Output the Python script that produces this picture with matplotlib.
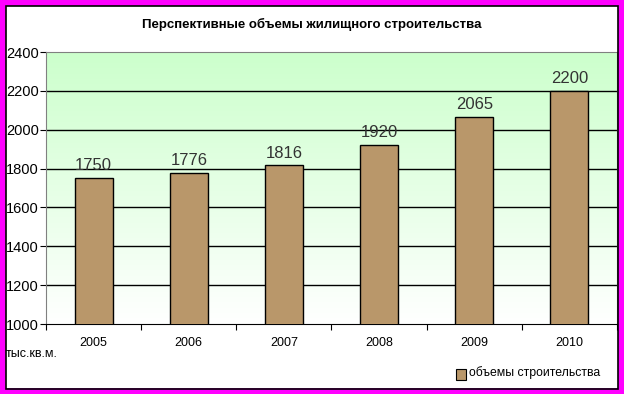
import numpy as np
import matplotlib
matplotlib.use('Agg')
import matplotlib.pyplot as plt
from matplotlib.patches import Rectangle

years = ["2005", "2006", "2007", "2008", "2009", "2010"]
volumes = [1750, 1776, 1816, 1920, 2065, 2200]
y_ticks = [1000, 1200, 1400, 1600, 1800, 2000, 2200, 2400]

plt.rcParams['font.family'] = ['Liberation Sans', 'DejaVu Sans']

fig = plt.figure(figsize=(6.24, 3.94), dpi=100)
fig.patch.set_facecolor("white")

# magenta outer frame and thin black inner line
fig.patches.append(Rectangle((0, 0), 1, 1, transform=fig.transFigure,
                             fill=False, edgecolor="#ff00ff", linewidth=8.5))
fig.patches.append(Rectangle((5.5 / 624, 5.5 / 394), 612.5 / 624, 383 / 394,
                             transform=fig.transFigure, fill=False,
                             edgecolor="black", linewidth=1.2))

ax = fig.add_axes([46 / 624, 70 / 394, 571 / 624, 272 / 394])

# green to white gradient background
grad = np.linspace(0, 1, 256).reshape(-1, 1)
top = np.array([204, 255, 204]) / 255
bot = np.array([255, 255, 255]) / 255
img = top * (1 - grad[..., None]) + bot * grad[..., None]
img = np.repeat(img, 2, axis=1)
ax.imshow(img, extent=[-0.5, len(years) - 0.5, 1000, 2400], aspect="auto",
          zorder=0, interpolation="bilinear")

x = np.arange(len(years))
ax.bar(x, volumes, width=0.4, bottom=0, color="#b9976a", edgecolor="black",
       linewidth=1.0, zorder=3)
for xi, v in zip(x, volumes):
    ax.text(xi, v + 25, str(v), ha="center", va="bottom", fontsize=12,
            color="#333333", zorder=4)

ax.set_xlim(-0.5, len(years) - 0.5)
ax.set_ylim(1000, 2400)
ax.set_yticks(y_ticks)
ax.tick_params(axis="y", labelsize=10.5, length=4, width=0.8, pad=1)
ax.set_xticks(x)
ax.set_xticklabels(years)
ax.tick_params(axis="x", labelsize=9, length=0, pad=9)
ax.set_xticks(np.arange(-0.5, len(years)), minor=True)
ax.tick_params(axis="x", which="minor", length=4, width=0.8)
for yt in y_ticks[1:-1]:
    ax.axhline(yt, color="black", linewidth=1.0, zorder=1)

for side in ["top", "right"]:
    ax.spines[side].set_color("#808080")
ax.spines["left"].set_color("#808080")
ax.spines["bottom"].set_color("black")

fig.text(0.5, 1 - 24 / 394, "Перспективные объемы жилищного строительства",
         ha="center", va="center", fontsize=9.5, fontweight="bold")
fig.text(6 / 624, 1 - 354 / 394, "тыс.кв.м.", ha="left", va="center",
         fontsize=9)

fig.patches.append(Rectangle((456 / 624, 1 - 380 / 394), 10 / 624, 11 / 394,
                             transform=fig.transFigure, facecolor="#b9976a",
                             edgecolor="black", linewidth=0.8))
fig.text(469 / 624, 1 - 373 / 394, "объемы строительства", ha="left",
         va="center", fontsize=8.8)

fig.savefig("out.png", dpi=100)
